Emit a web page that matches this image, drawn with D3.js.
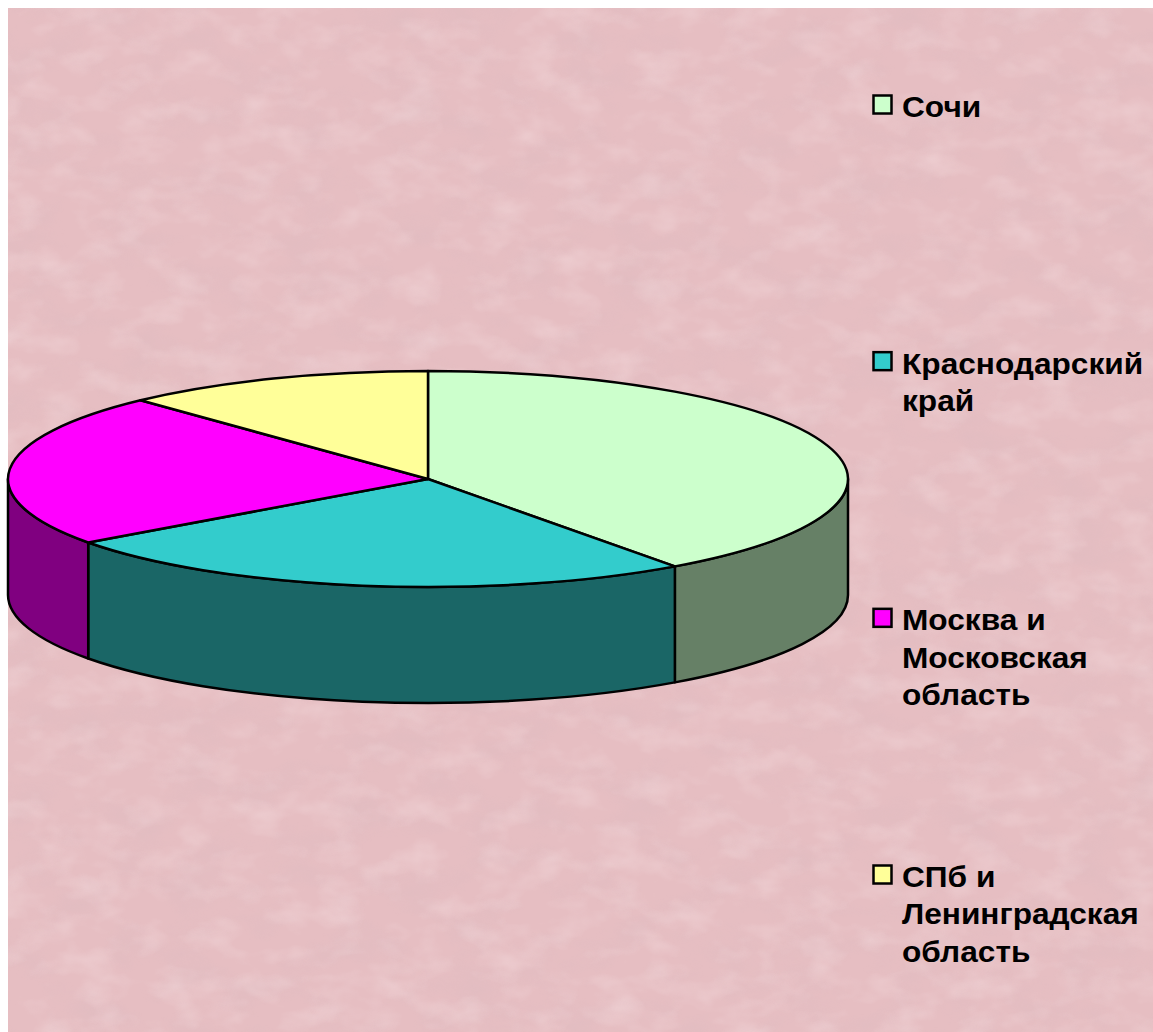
<!DOCTYPE html>
<html>
<head>
<meta charset="utf-8">
<script src="https://cdn.jsdelivr.net/npm/d3@7"></script>
<style>
  html, body { margin: 0; padding: 0; background: #fff; }
  svg { display: block; }
  .legend text { font-family: "Liberation Sans", Arial, sans-serif; font-weight: bold; font-size: 30px; fill: #000; }
</style>
</head>
<body>
<svg id="chart" width="1153" height="1032"></svg>
<script>
// regions and their shares (percent)
var regions = [
    ['Сочи'],
    ['Краснодарский', 'край'],
    ['Москва и', 'Московская', 'область'],
    ['СПб и', 'Ленинградская', 'область']
];
var shares = [40, 25, 23, 12];
var topColors = ['#ccffcc', '#33cccc', '#ff00ff', '#ffff99'];
var sideColors = ['#668066', '#1a6666', '#800080', '#80804c'];

var W = 1153, H = 1032;
var cx = 428, cy = 479, rx = 420, ry = 108, depth = 116;

var svg = d3.select('#chart');
var defs = svg.append('defs');

// cloudy pink paper texture
var f1 = defs.append('filter').attr('id', 'grain')
    .attr('x', 0).attr('y', 0).attr('width', '100%').attr('height', '100%');
f1.append('feTurbulence').attr('type', 'fractalNoise')
    .attr('baseFrequency', '0.018 0.03').attr('numOctaves', 4).attr('seed', 7).attr('result', 'n');
f1.append('feColorMatrix').attr('in', 'n').attr('type', 'matrix')
    .attr('values', '0 0 0 0 0.66  0 0 0 0 0.48  0 0 0 0 0.52  1.4 0 0 0 -0.62');

var f2 = defs.append('filter').attr('id', 'grain2')
    .attr('x', 0).attr('y', 0).attr('width', '100%').attr('height', '100%');
f2.append('feTurbulence').attr('type', 'fractalNoise')
    .attr('baseFrequency', '0.025 0.04').attr('numOctaves', 3).attr('seed', 21).attr('result', 'n');
f2.append('feColorMatrix').attr('in', 'n').attr('type', 'matrix')
    .attr('values', '0 0 0 0 0.98  0 0 0 0 0.86  0 0 0 0 0.87  0 1.4 0 0 -0.62');

var bg = svg.append('g');
bg.append('rect').attr('x', 8).attr('y', 8).attr('width', W - 8).attr('height', H - 8)
    .attr('fill', '#e6bec2');
bg.append('rect').attr('x', 8).attr('y', 8).attr('width', W - 8).attr('height', H - 8)
    .attr('filter', 'url(#grain)').attr('opacity', 0.35);
bg.append('rect').attr('x', 8).attr('y', 8).attr('width', W - 8).attr('height', H - 8)
    .attr('filter', 'url(#grain2)').attr('opacity', 0.4);

// pie
var pie = d3.pie().sort(null).value(function(d) { return d; });
var arcs = pie(shares);

function pt(a, dy) {
    return [cx + rx * Math.sin(a), cy - ry * Math.cos(a) + (dy || 0)];
}

function topPath(d) {
    var p0 = pt(d.startAngle), p1 = pt(d.endAngle);
    var large = (d.endAngle - d.startAngle) > Math.PI ? 1 : 0;
    return 'M' + cx + ',' + cy + 'L' + p0 + 'A' + rx + ',' + ry + ' 0 ' + large + ' 1 ' + p1 + 'Z';
}

function sidePath(d) {
    var s = Math.max(d.startAngle, Math.PI / 2),
        e = Math.min(d.endAngle, 3 * Math.PI / 2);
    if (s >= e) return null;
    var large = (e - s) > Math.PI ? 1 : 0;
    return 'M' + pt(s) + 'A' + rx + ',' + ry + ' 0 ' + large + ' 1 ' + pt(e) +
        'L' + pt(e, depth) + 'A' + rx + ',' + ry + ' 0 ' + large + ' 0 ' + pt(s, depth) + 'Z';
}

var g = svg.append('g');

g.selectAll('path.side')
    .data(arcs.filter(function(d) { return sidePath(d) !== null; }))
    .enter().append('path')
        .attr('class', 'side')
        .attr('d', sidePath)
        .attr('fill', function(d) { return sideColors[d.index]; })
        .attr('stroke', '#000')
        .attr('stroke-width', 2.5)
        .attr('stroke-linejoin', 'round');

g.selectAll('path.top')
    .data(arcs)
    .enter().append('path')
        .attr('class', 'top')
        .attr('d', topPath)
        .attr('fill', function(d) { return topColors[d.index]; })
        .attr('stroke', '#000')
        .attr('stroke-width', 2.5)
        .attr('stroke-linejoin', 'round');

// legend
var ly = d3.scaleLinear().domain([0, regions.length - 1]).range([117, 887]);
var lineH = 37.5;

var items = svg.append('g').attr('class', 'legend')
    .selectAll('g.item')
    .data(regions)
    .enter().append('g')
        .attr('class', 'item')
        .attr('transform', function(d, i) { return 'translate(0,' + ly(i) + ')'; });

items.append('rect')
    .attr('x', 873.5).attr('y', -21.5)
    .attr('width', 18).attr('height', 18)
    .attr('fill', function(d, i) { return topColors[i]; })
    .attr('stroke', '#000').attr('stroke-width', 2.5);

// the original text is drawn a bit wider than the font's natural width
items.append('text')
    .attr('transform', 'translate(902,0) scale(1.055,1)')
    .selectAll('tspan')
    .data(function(d) { return d; })
    .enter().append('tspan')
        .attr('x', 0)
        .attr('y', function(d, j) { return j * lineH; })
        .text(function(d) { return d; });
</script>
</body>
</html>
